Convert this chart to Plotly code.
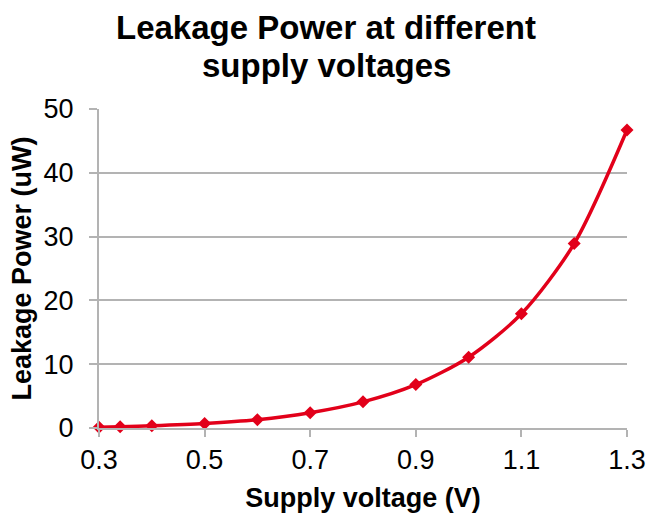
import plotly.graph_objects as go

# Supply voltage (V) and measured leakage power (uW)
voltage = [0.3, 0.34, 0.4, 0.5, 0.6, 0.7, 0.8, 0.9, 1.0, 1.1, 1.2, 1.3]
leakage_uw = [0.1, 0.2, 0.35, 0.7, 1.3, 2.4, 4.1, 6.8, 11.1, 17.9, 28.9, 46.7]

x_ticks = [0.3, 0.5, 0.7, 0.9, 1.1, 1.3]
y_ticks = [0, 10, 20, 30, 40, 50]

title_lines = ["Leakage Power at different", "supply voltages"]

red = "#E2001A"
grid = "#B3B3B3"
font_family = "Liberation Sans, Arial, sans-serif"

fig = go.Figure(
    go.Scatter(
        x=voltage,
        y=leakage_uw,
        mode="lines+markers",
        line=dict(color=red, width=3.5, shape="spline", smoothing=0.8),
        marker=dict(symbol="diamond", size=10, color=red),
        cliponaxis=False,
        showlegend=False,
    )
)

# Two-line chart title, each line placed on its own
title_y = [1.254, 1.135]
for line, yy in zip(title_lines, title_y):
    fig.add_annotation(
        text=f"<b>{line}</b>",
        xref="paper",
        yref="paper",
        x=0.43,
        y=yy,
        xanchor="center",
        yanchor="middle",
        showarrow=False,
        font=dict(size=33, family=font_family, color="black"),
    )

fig.update_layout(
    width=648,
    height=517,
    paper_bgcolor="white",
    plot_bgcolor="white",
    margin=dict(l=99, r=21, t=109, b=89),
    font=dict(family=font_family, color="black", size=27),
)

fig.update_xaxes(
    range=[0.3, 1.3],
    tickvals=x_ticks,
    ticktext=[f"{v:.1f}" for v in x_ticks],
    showgrid=False,
    zeroline=False,
    showline=True,
    linecolor=grid,
    linewidth=2,
    ticks="outside",
    ticklen=7,
    tickwidth=2,
    tickcolor=grid,
    tickfont=dict(size=27),
    automargin=False,
    title=dict(text="<b>Supply voltage (V)</b>", font=dict(size=27), standoff=14),
)

fig.update_yaxes(
    range=[0, 50],
    tickvals=y_ticks,
    showgrid=True,
    gridcolor=grid,
    gridwidth=1.5,
    zeroline=False,
    showline=True,
    linecolor=grid,
    linewidth=2,
    ticks="outside",
    ticklen=8,
    tickwidth=1.5,
    tickcolor=grid,
    tickfont=dict(size=27),
    ticklabelstandoff=10,
    automargin=False,
    title=dict(text="<b>Leakage Power (uW)</b>", font=dict(size=27), standoff=4),
)

fig.write_html("out.html")
